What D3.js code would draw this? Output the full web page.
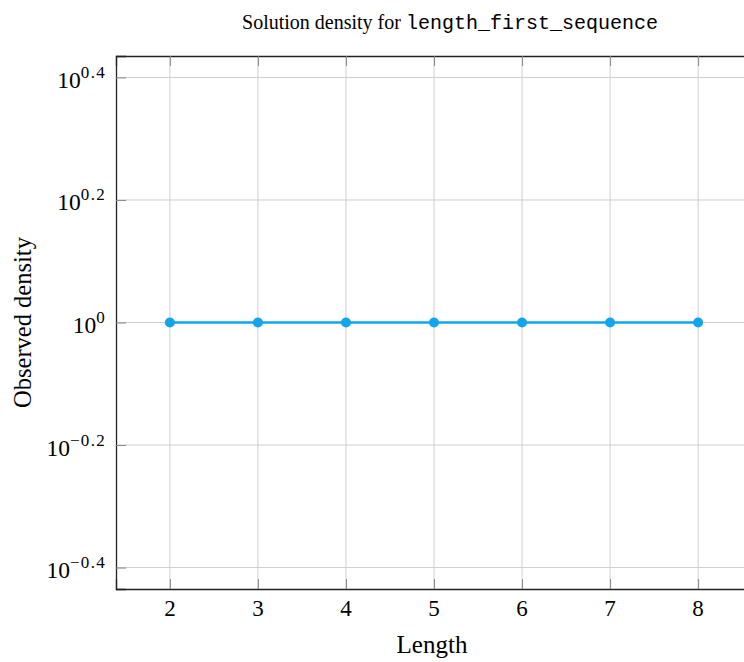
<!DOCTYPE html>
<html>
<head>
<meta charset="utf-8">
<script src="https://cdn.jsdelivr.net/npm/d3@7"></script>
<style>
  body { margin: 0; background: #fff; }
  text { font-family: "Liberation Serif", "DejaVu Serif", serif; fill: #000; }
  .mono { font-family: "Liberation Mono", "DejaVu Sans Mono", monospace; }
</style>
</head>
<body>
<div id="chart"></div>
<script>
// data
var lengths = [2, 3, 4, 5, 6, 7, 8];
var densities = [1, 1, 1, 1, 1, 1, 1];
var xTicks = [2, 3, 4, 5, 6, 7, 8];
var yTickExps = [-0.4, -0.2, 0, 0.2, 0.4];

var svgWidth = 744;
var svgHeight = 662;

var margin = { top: 56, bottom: 73, left: 116, right: -8 };
var width = svgWidth - margin.left - margin.right;
var height = svgHeight - margin.top - margin.bottom;

var svg = d3.select("#chart")
    .append("svg")
    .attr("width", svgWidth)
    .attr("height", svgHeight);

var chartGroup = svg.append("g")
    .attr("transform", `translate(${margin.left}, ${margin.top})`);

// scales (pgfplots-like enlarged limits)
var xPad = (d3.max(lengths) - d3.min(lengths)) * 0.102;
var xScale = d3.scaleLinear()
    .domain([d3.min(lengths) - xPad, d3.max(lengths) + xPad])
    .range([0, width]);

var yScale = d3.scaleLog()
    .domain([Math.pow(10, -0.435), Math.pow(10, 0.435)])
    .range([height, 0]);

// grid
chartGroup.selectAll(".vgrid")
    .data(xTicks)
    .enter()
    .append("line")
    .attr("x1", d => xScale(d))
    .attr("x2", d => xScale(d))
    .attr("y1", 0)
    .attr("y2", height)
    .attr("stroke", "#cfcfcf")
    .attr("stroke-width", 1);

chartGroup.selectAll(".hgrid")
    .data(yTickExps)
    .enter()
    .append("line")
    .attr("x1", 0)
    .attr("x2", width)
    .attr("y1", d => yScale(Math.pow(10, d)))
    .attr("y2", d => yScale(Math.pow(10, d)))
    .attr("stroke", "#cfcfcf")
    .attr("stroke-width", 1);

// axes: inward ticks on all sides, labels drawn below
var tickLen = 10;
var bottomAxis = d3.axisBottom(xScale).tickValues(xTicks).tickSize(-tickLen).tickFormat("");
var topAxis = d3.axisTop(xScale).tickValues(xTicks).tickSize(-tickLen).tickFormat("");
var leftAxis = d3.axisLeft(yScale).tickValues(yTickExps.map(e => Math.pow(10, e))).tickSize(-tickLen).tickFormat("");

[
  chartGroup.append("g").attr("transform", `translate(0, ${height})`).call(bottomAxis),
  chartGroup.append("g").call(topAxis),
  chartGroup.append("g").call(leftAxis)
].forEach(function(g) {
    g.select(".domain").attr("stroke", "#222").attr("stroke-width", 1.3);
    g.selectAll(".tick line").attr("stroke", "#888").attr("stroke-width", 1);
});

// x tick labels
chartGroup.selectAll(".xlabel")
    .data(xTicks)
    .enter()
    .append("text")
    .attr("x", d => xScale(d))
    .attr("y", height + 27)
    .style("font-size", "23px")
    .style("text-anchor", "middle")
    .text(d => d);

// y tick labels 10^e
var yLabels = chartGroup.selectAll(".ylabel")
    .data(yTickExps)
    .enter()
    .append("text")
    .attr("x", -10)
    .attr("y", d => yScale(Math.pow(10, d)) + 10.5)
    .style("text-anchor", "end")
    .style("font-size", "23.5px");

yLabels.append("tspan").text("10");
yLabels.append("tspan")
    .attr("dy", -10)
    .style("font-size", "17px")
    .style("letter-spacing", "1.3px")
    .text(d => d === 0 ? "0" : (d < 0 ? "\u2212" : "") + Math.abs(d).toFixed(1));

// line + markers
var line = d3.line()
    .x(d => xScale(d[0]))
    .y(d => yScale(d[1]));

var points = lengths.map((l, i) => [l, densities[i]]);

chartGroup.append("path")
    .datum(points)
    .attr("d", line)
    .attr("fill", "none")
    .attr("stroke", "#12a4ed")
    .attr("stroke-width", 2.7);

chartGroup.selectAll("circle")
    .data(points)
    .enter()
    .append("circle")
    .attr("cx", d => xScale(d[0]))
    .attr("cy", d => yScale(d[1]))
    .attr("r", 5)
    .attr("fill", "#12a4ed");

// title
var title = svg.append("text")
    .attr("x", 450)
    .attr("y", 29)
    .style("text-anchor", "middle")
    .style("font-size", "20px");
title.append("tspan").text("Solution density for ");
title.append("tspan").attr("class", "mono").text("length_first_sequence");

// axes labels
svg.append("text")
    .attr("x", 432)
    .attr("y", 653)
    .style("text-anchor", "middle")
    .style("font-size", "25px")
    .text("Length");

svg.append("text")
    .attr("transform", `translate(31, ${margin.top + height / 2}) rotate(-90)`)
    .style("text-anchor", "middle")
    .style("font-size", "24.5px")
    .text("Observed density");
</script>
</body>
</html>
